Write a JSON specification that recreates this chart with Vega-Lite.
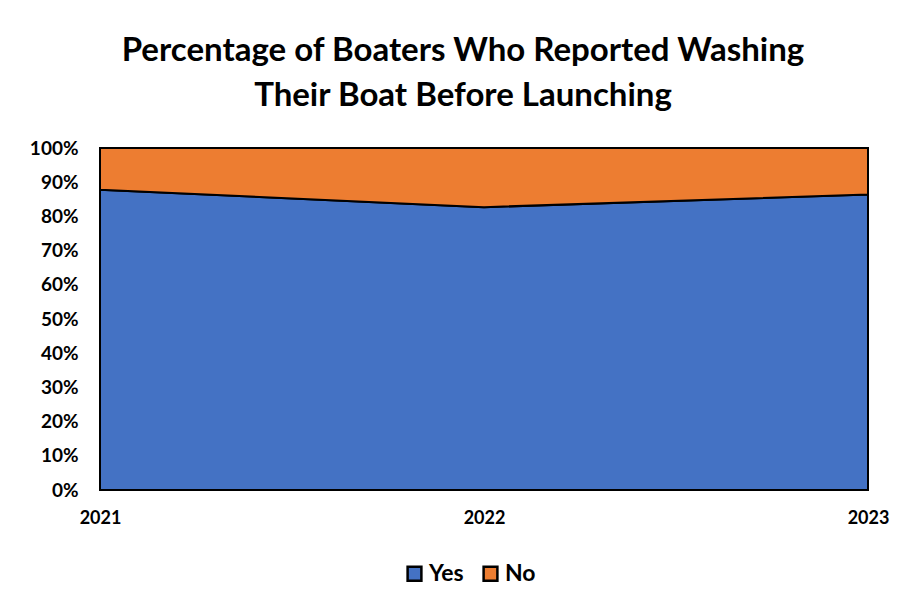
{
  "$schema": "https://vega.github.io/schema/vega-lite/v6.json",
  "width": 768,
  "height": 342,
  "autosize": {"type": "none"},
  "padding": {"left": 100, "top": 148, "right": 44, "bottom": 122},
  "background": "white",
  "title": {
    "text": ["Percentage of Boaters Who Reported Washing", "Their Boat Before Launching"],
    "font": "Lato",
    "fontSize": 33,
    "fontWeight": "bold",
    "color": "black",
    "anchor": "middle",
    "dx": -21,
    "offset": 26,
    "lineHeight": 45
  },
  "data": {
    "values": [
      {"year": "2021", "series": "Yes", "value": 0.878},
      {"year": "2022", "series": "Yes", "value": 0.827},
      {"year": "2023", "series": "Yes", "value": 0.864},
      {"year": "2021", "series": "No", "value": 0.122},
      {"year": "2022", "series": "No", "value": 0.173},
      {"year": "2023", "series": "No", "value": 0.136}
    ]
  },
  "mark": {"type": "area", "stroke": "black", "strokeWidth": 2, "opacity": 1},
  "encoding": {
    "x": {
      "field": "year",
      "type": "ordinal",
      "scale": {"type": "point", "padding": 0},
      "axis": {
        "title": null,
        "labelAngle": 0,
        "labelFont": "Lato",
        "labelFontSize": 18,
        "labelFontWeight": "bold",
        "labelColor": "black",
        "labelPadding": 19,
        "domain": false,
        "ticks": false,
        "grid": false
      }
    },
    "y": {
      "field": "value",
      "type": "quantitative",
      "stack": "zero",
      "scale": {"domain": [0, 1], "nice": false},
      "axis": {
        "title": null,
        "format": ".0%",
        "values": [0, 0.1, 0.2, 0.3, 0.4, 0.5, 0.6, 0.7, 0.8, 0.9, 1],
        "labelFont": "Lato",
        "labelFontSize": 19,
        "labelFontWeight": "bold",
        "labelColor": "black",
        "labelPadding": 22,
        "domain": false,
        "ticks": false,
        "grid": false
      }
    },
    "order": {"field": "series", "sort": "descending"},
    "color": {
      "field": "series",
      "type": "nominal",
      "scale": {"domain": ["Yes", "No"], "range": ["#4472C4", "#ED7D31"]},
      "legend": {
        "title": null,
        "orient": "none",
        "direction": "horizontal",
        "legendX": 303,
        "legendY": 414,
        "symbolType": "square",
        "symbolSize": 190,
        "symbolStrokeColor": "black",
        "symbolStrokeWidth": 2.5,
        "labelFont": "Lato",
        "labelFontSize": 23,
        "labelFontWeight": "bold",
        "labelColor": "black",
        "columnPadding": 14,
        "labelOffset": 3
      }
    }
  },
  "config": {"view": {"stroke": null}}
}
